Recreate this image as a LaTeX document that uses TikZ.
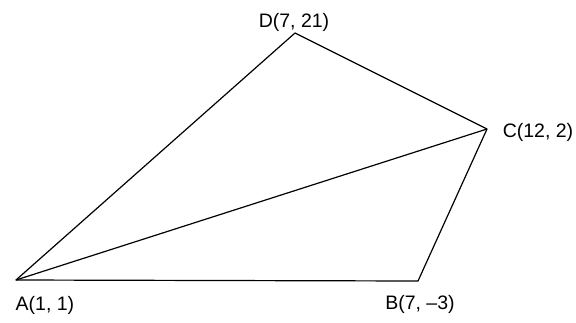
\documentclass[tikz,border=0pt]{standalone}
\usepackage{fontspec}
\setmainfont{Liberation Sans}
\usepackage{tikz}
\usetikzlibrary{positioning,calc}

\begin{document}
\begin{tikzpicture}[
  x=1pt, y=-1pt,
  side/.style={line width=1.2pt, black, line join=round},
  vlabel/.style={inner sep=0pt, font=\fontsize{19.5}{23}\selectfont}]

% ---- page frame, pixel coordinates of the 576 x 322 picture ------------
\useasboundingbox (0,0) rectangle (576,322);

% ---- the four vertices ----------------------------------------------------
\coordinate (A) at ( 16,280);
\coordinate (B) at (418,281);
\coordinate (C) at (487,129);
\coordinate (D) at (295, 33);

% ---- quadrilateral ABCD with the diagonal AC ------------------------------
\draw[side] (A) -- (B) -- (C) -- (D) -- cycle;
\draw[side] (A) -- (C);

% ---- vertex labels --------------------------------------------------------
\node[vlabel] (labA) at ( 45,305) {A(1, 1)};
\node[vlabel] (labB) at (420,304) {B(7, --3)};
\node[vlabel] (labC) at (538,132) {C(12, 2)};
\node[vlabel] (labD) at (294, 22) {D(7, 21)};

\end{tikzpicture}
\end{document}
